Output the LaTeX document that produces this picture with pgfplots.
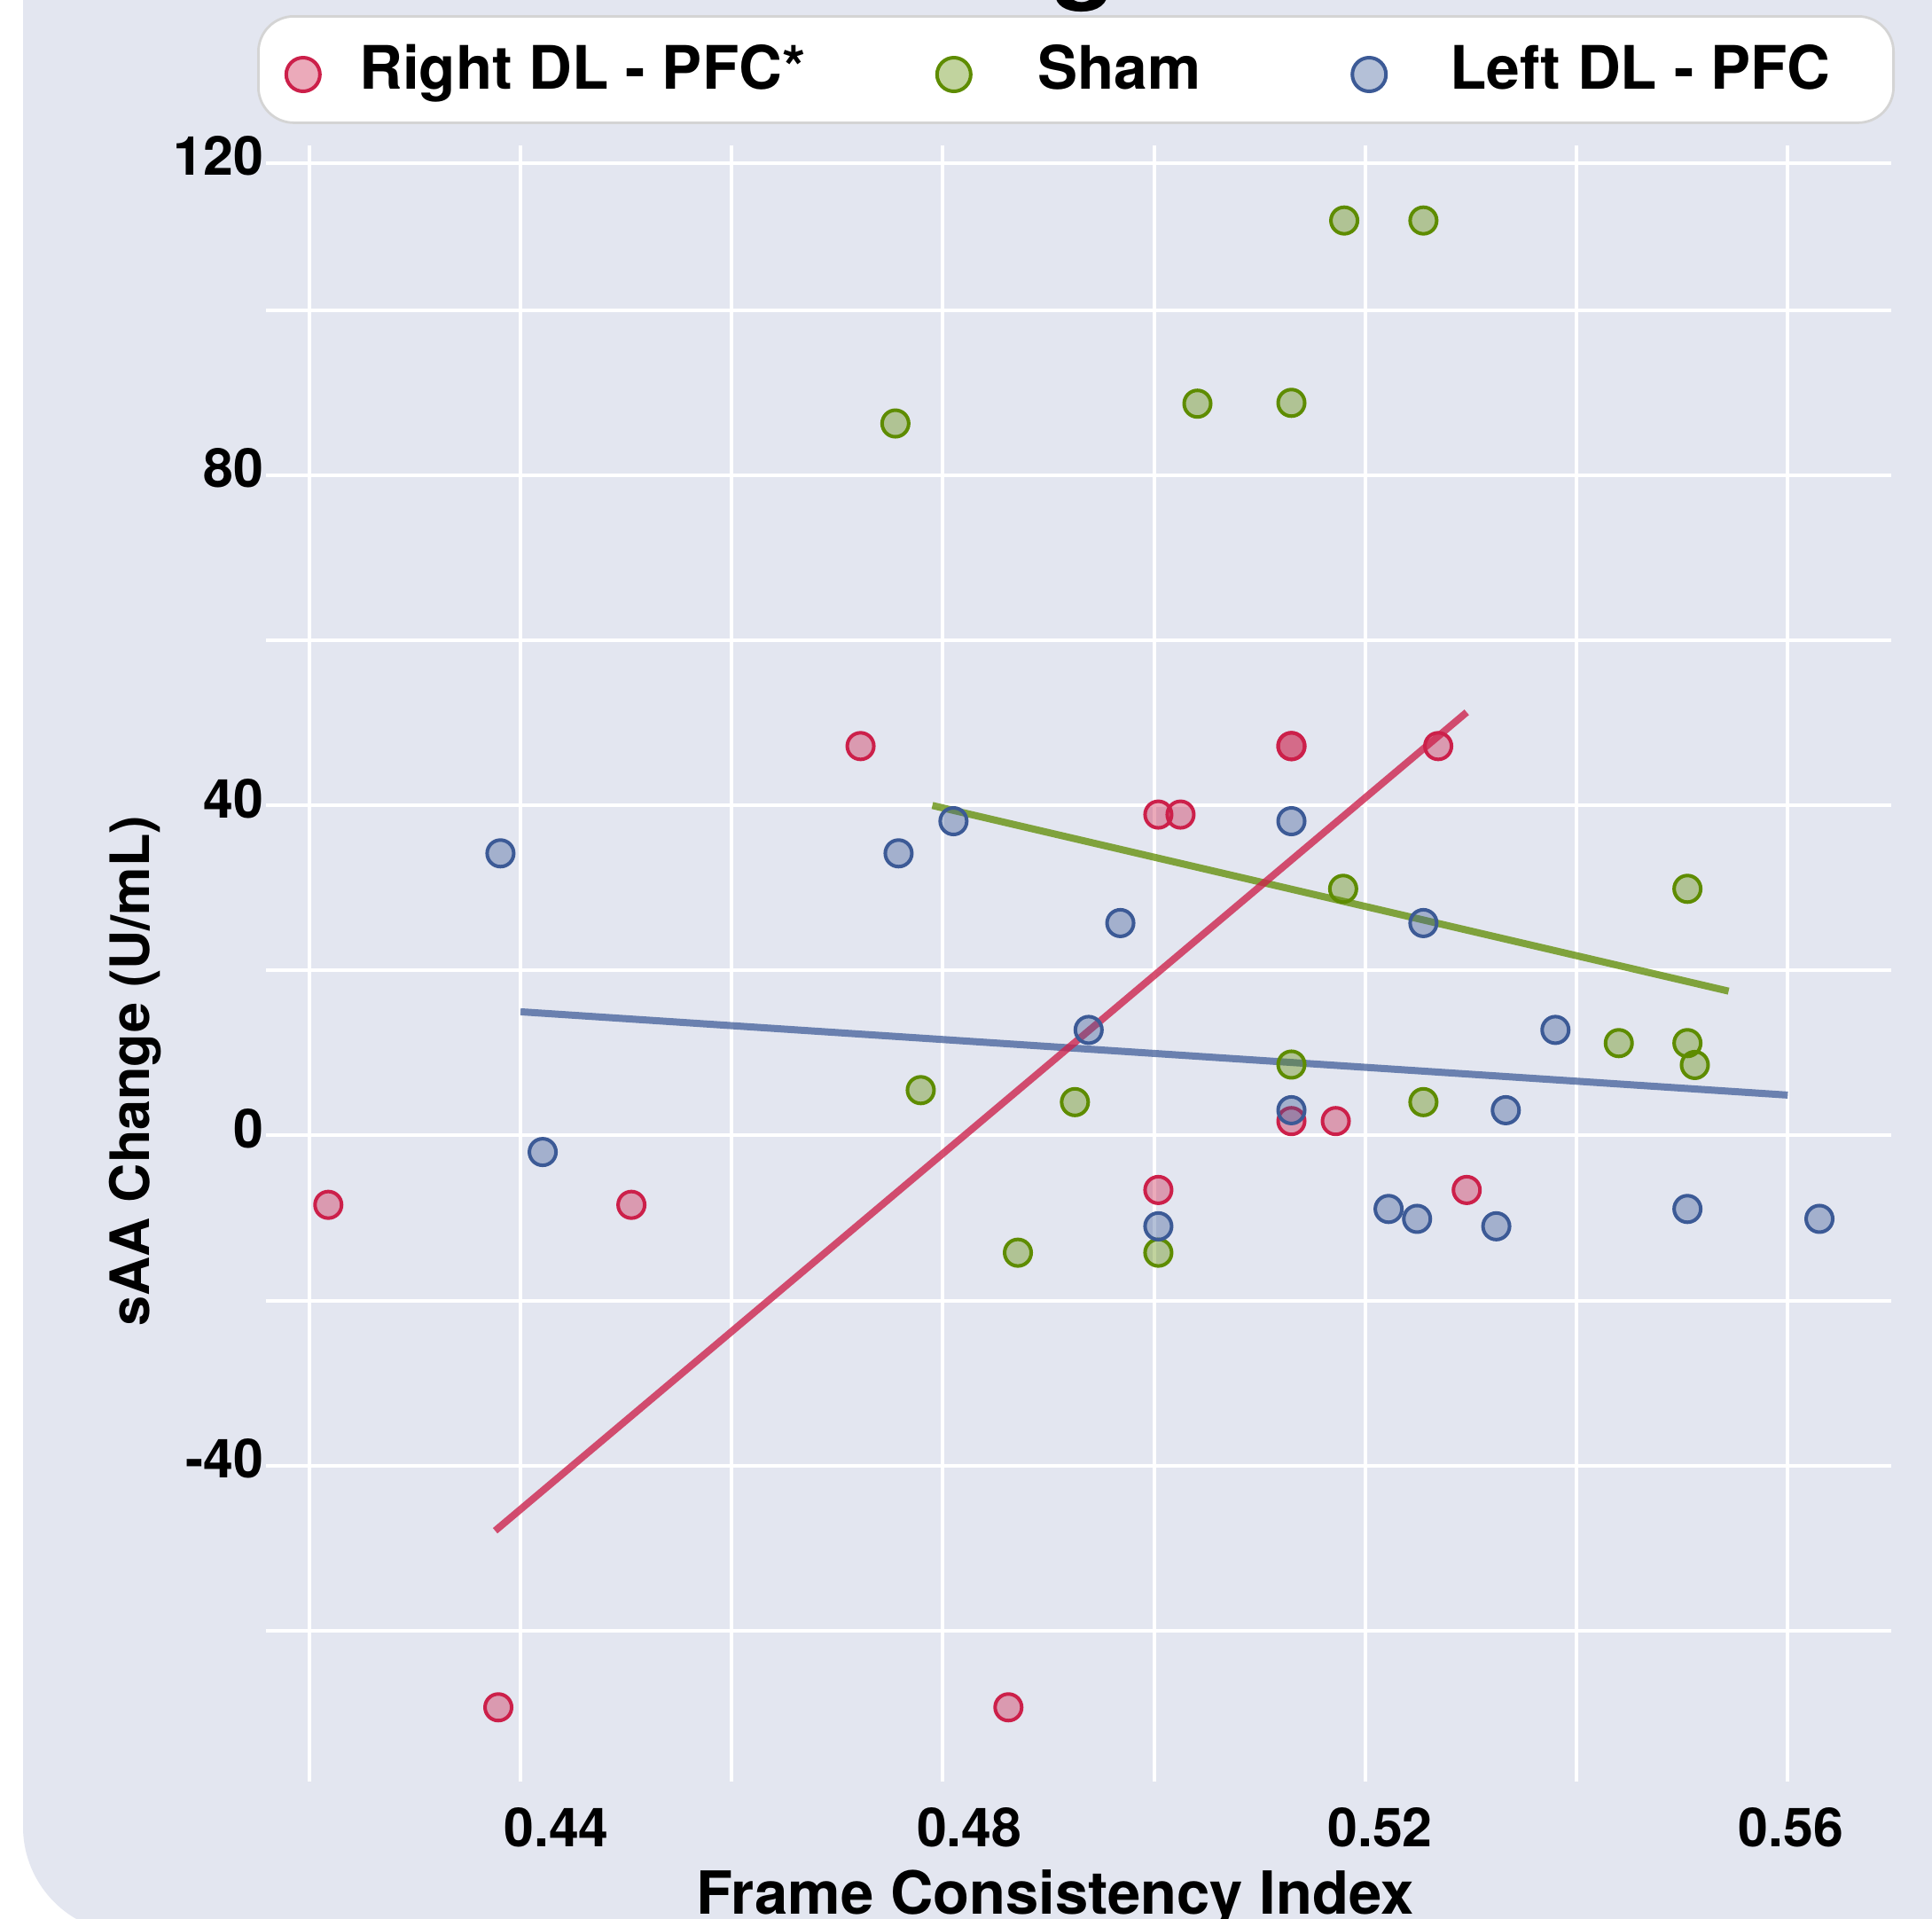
\documentclass[border=0pt]{standalone}
\usepackage{fontspec}
\setmainfont{TeX Gyre Heros}
\usepackage{pgfplots}
\pgfplotsset{compat=1.18}

\definecolor{bgc}{RGB}{227,230,240}
\definecolor{redC}{RGB}{204,32,74}
\definecolor{greenC}{RGB}{94,140,0}
\definecolor{blueC}{RGB}{60,90,150}
\definecolor{legline}{RGB}{212,212,212}

% legend image: width of the cell, x of the marker
\pgfplotsset{
  legimg/.style n args={2}{legend image code/.code={\path (0pt,-10pt) (#1,10pt); \draw[##1, mark size=4.75pt] plot coordinates {(#2,-1.4pt)};}},
  dots/.style={only marks, mark=*, mark size=3.75pt,
    mark options={draw=#1, fill=#1, fill opacity=0.38, line width=1pt}},
}

\begin{document}
\begin{tikzpicture}
\useasboundingbox (0,0) rectangle (544.75pt,540.75pt);
\clip (0,0) rectangle (544.75pt,540.75pt);
\fill[white] (0,0) rectangle (544.75pt,540.75pt);
\fill[bgc, rounded corners=30pt] (6.5pt,-4.25pt) rectangle (600pt,600pt);
% title, mostly cut off at the top
\node[anchor=base, inner sep=0pt, font=\fontsize{30}{36}\selectfont\bfseries] at (305.5pt,543.75pt) {g};

\begin{axis}[
  at={(75pt,38.5pt)}, anchor=south west,
  scale only axis, width=458.25pt, height=461.25pt,
  xmin=0.4159, xmax=0.5698, ymin=-78.3, ymax=120,
  axis line style={draw=none},
  major tick length=0pt, minor tick length=0pt,
  xtick={0.4434,0.4825,0.5214,0.5603}, xticklabels={0.44,0.48,0.52,0.56},
  minor xtick={0.42,0.44,0.46,0.48,0.50,0.52,0.54,0.56},
  ytick={-40,0,40,80,117.9}, yticklabels={-40,0,40,80,120},
  minor ytick={-60,-40,-20,0,20,40,60,80,100,117.9},
  xmajorgrids=false, ymajorgrids=false, xminorgrids=true, yminorgrids=true,
  minor grid style={white, line width=1pt},
  xticklabel style={anchor=north, inner sep=0pt, yshift=-7.25pt, font=\fontsize{15.2}{18}\selectfont\bfseries},
  yticklabel style={anchor=east, inner sep=0pt, xshift=-0.5pt, yshift=2pt, font=\fontsize{15.2}{18}\selectfont\bfseries},
  legend columns=3,
  legend cell align=left,
  legend style={at={(-0.005455,1.07967)}, anchor=north west,
    draw=legline, line width=0.7pt, fill=white, rounded corners=10pt,
    inner xsep=0pt, inner ysep=0pt, minimum height=30pt,
    column sep=0pt, nodes={inner sep=0pt},
    font=\fontsize{16.9}{20}\selectfont\bfseries},
]

% Right DL - PFC*
\addplot[dots=redC, legimg={27.75pt}{12.25pt}]
coordinates {
  (0.4218,-8.4) (0.4379,-69.3) (0.4505,-8.4) (0.4722,47.2) (0.4862,-69.3)
  (0.5004,38.9) (0.5025,38.9) (0.5130,47.2) (0.5130,47.2) (0.5269,47.2)
  (0.5004,-6.6) (0.5130,1.75) (0.5172,1.75) (0.5296,-6.6)
};
\addlegendentry{Right DL - PFC*}

% Sham
\addplot[dots=greenC, legimg={64.75pt}{41.5pt}]
coordinates {
  (0.4755,86.3) (0.4779,5.5) (0.4871,-14.2) (0.4925,4.05) (0.5004,-14.2)
  (0.5041,88.7) (0.5130,88.8) (0.5130,8.6) (0.5180,110.9) (0.5179,29.9)
  (0.5255,110.9) (0.5255,4.05) (0.5440,11.2) (0.5505,11.2) (0.5505,29.9)
  (0.5512,8.55)
};
\addlegendentry{Sham}

% Left DL - PFC
\addplot[dots=blueC, legimg={69.5pt}{47.125pt}]
coordinates {
  (0.4381,34.2) (0.4421,-2.0) (0.4758,34.2) (0.4810,38.1) (0.4968,25.75)
  (0.4938,12.8) (0.5130,38.1) (0.5004,-11.0) (0.5130,3.07) (0.5255,25.75)
  (0.5222,-8.9) (0.5249,-10.1) (0.5324,-11.0) (0.5333,3.07) (0.5380,12.8)
  (0.5505,-8.9) (0.5630,-10.1)
};
\addlegendentry{Left DL - PFC\hspace*{17.75pt}}

% fit lines
\addplot[blueC, draw opacity=0.72, line width=2pt, forget plot] coordinates {(0.4400,15.0) (0.5600,4.9)};
\addplot[greenC, draw opacity=0.75, line width=2pt, forget plot] coordinates {(0.4790,40.0) (0.5544,17.5)};
\addplot[redC, draw opacity=0.78, line width=2pt, forget plot] coordinates {(0.4376,-47.9) (0.5296,51.3)};
\end{axis}

\node[rotate=90, anchor=base, font=\fontsize{15.3}{18}\selectfont\bfseries] at (42pt,238.8pt) {sAA Change (U/mL)};
\node[anchor=base, font=\fontsize{16.75}{20}\selectfont\bfseries] at (297.5pt,1.25pt) {Frame Consistency Index};
\end{tikzpicture}
\end{document}
